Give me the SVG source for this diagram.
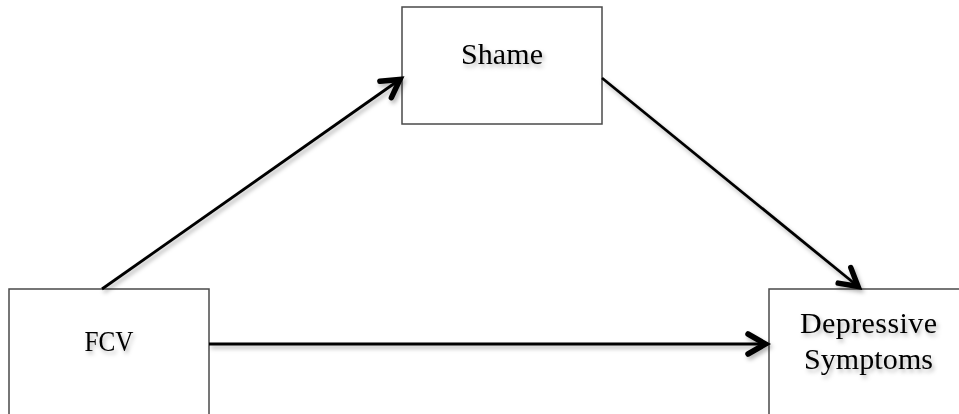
<svg xmlns="http://www.w3.org/2000/svg" width="959" height="414" viewBox="0 0 959 414">
<style>
.box{fill:#fff;stroke:#4a4a4a;stroke-width:1.5}
.lbl{font-family:"Liberation Serif","DejaVu Serif",serif;font-size:30px;fill:#000;text-anchor:middle}
.edge{stroke:#000;stroke-width:2.8;fill:none}
</style>
<defs>
<filter id="sh" filterUnits="userSpaceOnUse" x="0" y="0" width="959" height="414">
<feDropShadow dx="2" dy="3" stdDeviation="2" flood-color="#000" flood-opacity="0.3"/>
</filter>
<marker id="arr" markerUnits="userSpaceOnUse" viewBox="-30 -15 35 30" markerWidth="35" markerHeight="30" refX="0" refY="0" orient="auto">
<path d="M -20 -10 L -2.5 0 L -20 10" fill="none" stroke="#000" stroke-width="5.5" stroke-linecap="round" stroke-linejoin="miter"/>
</marker>
</defs>
<rect width="959" height="414" fill="#fff"/>
<g id="shame">
<rect class="box" x="402" y="7" width="200" height="117"/>
<text class="lbl" x="502" y="64" textLength="82" lengthAdjust="spacing" filter="url(#sh)">Shame</text>
</g>
<g id="fcv">
<rect class="box" x="9" y="289" width="200" height="140"/>
<text class="lbl" x="109" y="351" textLength="49" lengthAdjust="spacingAndGlyphs" filter="url(#sh)">FCV</text>
</g>
<g id="depressive">
<rect class="box" x="769" y="289" width="230" height="140"/>
<text class="lbl" filter="url(#sh)"><tspan x="868.5" y="333" textLength="137" lengthAdjust="spacing">Depressive</tspan><tspan x="868.5" y="369" textLength="129" lengthAdjust="spacing">Symptoms</tspan></text>
</g>
<g id="connectors" filter="url(#sh)">
<line class="edge" x1="102" y1="289" x2="402" y2="78" marker-end="url(#arr)"/>
<line class="edge" x1="602" y1="78" x2="860" y2="288" marker-end="url(#arr)"/>
<line class="edge" x1="209" y1="344" x2="768" y2="344" marker-end="url(#arr)"/>
</g>
</svg>
